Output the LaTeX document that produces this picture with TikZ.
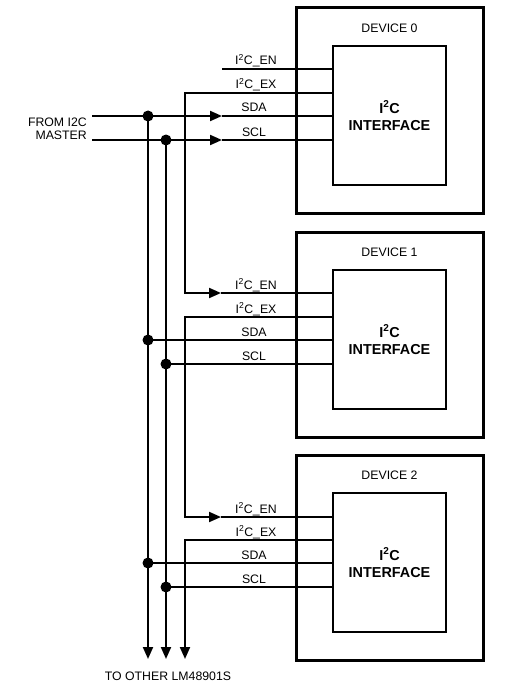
\documentclass[tikz,border=0pt]{standalone}
\usepackage{fontspec}
\setmainfont{Liberation Sans}
\usetikzlibrary{arrows.meta}
\newcommand{\ic}{I\textsuperscript{2}C}
\tikzset{
	sig/.style={line width=2pt},
	tip/.style={-{Triangle[length=12pt,width=10pt]}},
	devbox/.style={draw, line width=3pt, minimum width=187pt, minimum height=205pt, inner sep=0pt, outer sep=0pt},
	ifcbox/.style={draw, line width=2.2pt, minimum width=113pt, minimum height=139pt, inner sep=0pt, outer sep=0pt, align=center, font=\fontsize{14.4}{17}\selectfont\bfseries},
	lbl/.style={font=\fontsize{12.3}{12.5}\selectfont, inner sep=0pt},
	sigl/.style={lbl, anchor=base},
	dot/.style={circle, fill, inner sep=0pt, minimum size=11pt},
}
\begin{document}
\begin{tikzpicture}[x=1pt, y=-1pt]
	\useasboundingbox (0,0) rectangle (514,690);
			%   %   %   %   %   %   %   %   %   %   %
			%   Master
				\coordinate (mda) at (92,116);
				\coordinate (mcl) at (92,140);
				\node[lbl, align=right, anchor=east] (master) at (87,129) {FROM I2C\\MASTER};
			%   %   %   %   %   %   %   %   %   %   %
			%   Device 0
				\node[devbox] (dev0) at (389.5,110.5) {};
				\node[lbl] (name0) at (389.5,28) {DEVICE 0};
				\node[ifcbox] (ifc0) at (389.5,115.5) {\ic\\INTERFACE};
				\coordinate (en0) at (333,69);
				\coordinate (ex0) at (333,93);
				\coordinate (da0) at (333,116);
				\coordinate (cl0) at (333,140);
				\coordinate (fen0) at (222,69);
				\coordinate (kex0) at (185,93);
				\coordinate (tda0) at (222,116);
				\coordinate (tcl0) at (222,140);
				\node[dot] (bda0) at (148,116) {};
				\node[dot] (bcl0) at (166,140) {};
				\draw[sig] (fen0) -- (en0);
				\draw[sig, tip] (mda) -- (tda0);
				\draw[sig] (tda0) -- (da0);
				\draw[sig, tip] (mcl) -- (tcl0);
				\draw[sig] (tcl0) -- (cl0);
				\node[sigl] (len0) at (256,65) {\ic\_EN};
				\node[sigl] (lex0) at (256,89) {\ic\_EX};
				\node[sigl] (lda0) at (254,112) {SDA};
				\node[sigl] (lcl0) at (254,136) {SCL};
			%   %   %   %   %   %   %   %   %   %   %
			%   Device 1
				\node[devbox] (dev1) at (389.5,334.5) {};
				\node[lbl] (name1) at (389.5,252) {DEVICE 1};
				\node[ifcbox] (ifc1) at (389.5,339.5) {\ic\\INTERFACE};
				\coordinate (en1) at (333,293);
				\coordinate (ex1) at (333,317);
				\coordinate (da1) at (333,340);
				\coordinate (cl1) at (333,364);
				\coordinate (ten1) at (221,293);
				\coordinate (kex1) at (185,317);
				\node[dot] (bda1) at (148,340) {};
				\node[dot] (bcl1) at (166,364) {};
				\draw[sig, tip] (ex0) -- (kex0) |- (ten1);
				\draw[sig] (ten1) -- (en1);
				\draw[sig] (bda1.center) -- (da1);
				\draw[sig] (bcl1.center) -- (cl1);
				\node[sigl] (len1) at (256,289) {\ic\_EN};
				\node[sigl] (lex1) at (256,313) {\ic\_EX};
				\node[sigl] (lda1) at (254,336) {SDA};
				\node[sigl] (lcl1) at (254,360) {SCL};
			%   %   %   %   %   %   %   %   %   %   %
			%   Device 2
				\node[devbox] (dev2) at (389.5,557.5) {};
				\node[lbl] (name2) at (389.5,475) {DEVICE 2};
				\node[ifcbox] (ifc2) at (389.5,562.5) {\ic\\INTERFACE};
				\coordinate (en2) at (333,517);
				\coordinate (ex2) at (333,540);
				\coordinate (da2) at (333,563);
				\coordinate (cl2) at (333,587);
				\coordinate (ten2) at (221,517);
				\coordinate (kex2) at (185,540);
				\node[dot] (bda2) at (148,563) {};
				\node[dot] (bcl2) at (166,587) {};
				\draw[sig, tip] (ex1) -- (kex1) |- (ten2);
				\draw[sig] (ten2) -- (en2);
				\draw[sig] (bda2.center) -- (da2);
				\draw[sig] (bcl2.center) -- (cl2);
				\node[sigl] (len2) at (256,513) {\ic\_EN};
				\node[sigl] (lex2) at (256,536) {\ic\_EX};
				\node[sigl] (lda2) at (254,559) {SDA};
				\node[sigl] (lcl2) at (254,583) {SCL};
			%   %   %   %   %   %   %   %   %   %   %
			%   To other LM48901S
				\coordinate (oda) at (148,659);
				\coordinate (ocl) at (166,659);
				\coordinate (oex) at (185,659);
				\draw[sig, tip] (bda0.center) -- (oda);
				\draw[sig, tip] (bcl0.center) -- (ocl);
				\draw[sig, tip] (ex2) -- (kex2) -- (oex);
				\node[lbl] (other) at (168,676) {TO OTHER LM48901S};
\end{tikzpicture}
\end{document}
